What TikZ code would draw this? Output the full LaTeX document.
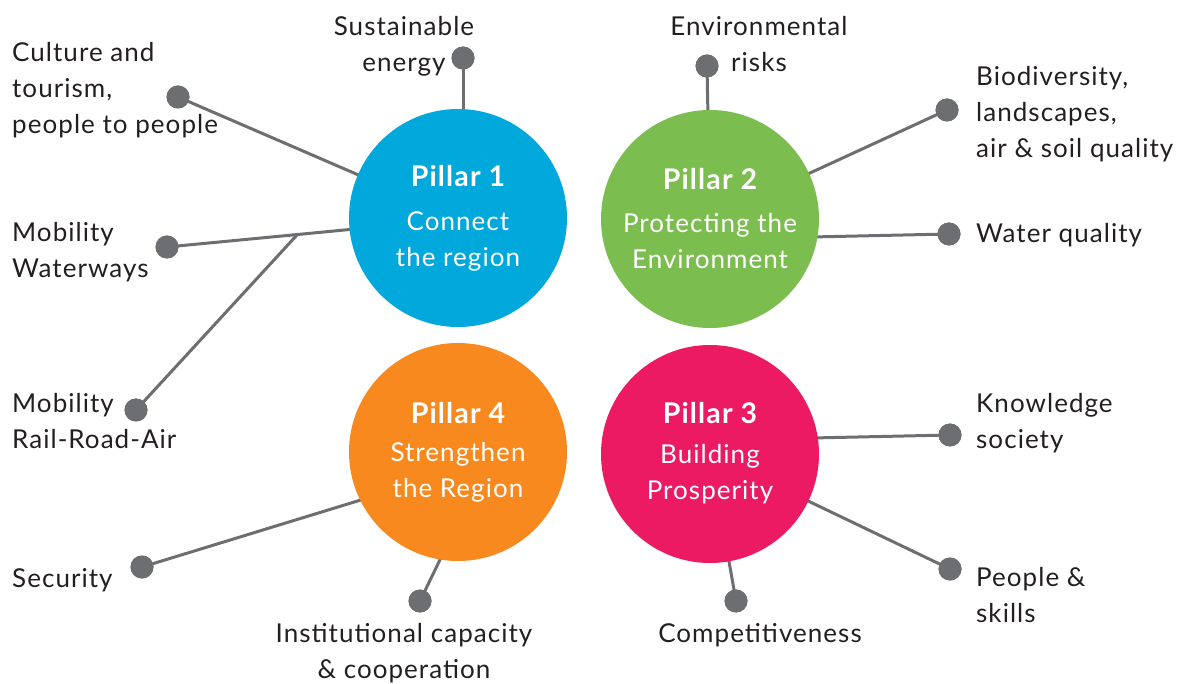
\documentclass[tikz,border=0pt]{standalone}
\usepackage{fontspec}
\setmainfont{Lato}[LetterSpace=4]
\definecolor{pblue}{HTML}{00A8DC}
\definecolor{pgreen}{HTML}{7BBD4F}
\definecolor{porange}{HTML}{F7891E}
\definecolor{ppink}{HTML}{EC1A63}
\definecolor{greyc}{HTML}{6D6E71}
\definecolor{txt}{HTML}{231F20}
\newcommand\pttl[1]{{\fontsize{28.5}{36}\selectfont\bfseries #1}}
\begin{document}
\begin{tikzpicture}[x=1pt,y=-1pt,
  pillar/.style={circle, minimum size=218pt, inner sep=0pt, text=white, align=center,
    font=\fontsize{26}{36}\selectfont},
  lbl/.style={text=txt, inner sep=0pt, font=\fontsize{26}{36}\selectfont},
  dot/.style={circle, fill=greyc, minimum size=23pt, inner sep=0pt},
  conn/.style={draw=greyc, line width=3pt}]
\useasboundingbox (0,0) rectangle (1184,684);

\coordinate (p1c) at (458,218);
\coordinate (p2c) at (710,219);
\coordinate (p4c) at (458,452);
\coordinate (p3c) at (710,454);

\node[dot] (dSust) at (463,58) {};
\node[dot] (dCult) at (178,97) {};
\node[dot] (dWater) at (167,247) {};
\node[dot] (dRail) at (136,410) {};
\node[dot] (dEnv) at (707,66) {};
\node[dot] (dBio) at (947,110) {};
\node[dot] (dWq) at (949,234) {};
\node[dot] (dKnow) at (950,435) {};
\node[dot] (dPeople) at (950,569) {};
\node[dot] (dComp) at (736,601) {};
\node[dot] (dInst) at (420,601) {};
\node[dot] (dSec) at (142,567) {};
\coordinate (branch) at (297,235);
\coordinate (eSust) at (463,130);
\coordinate (eWater) at (355,229);
\coordinate (eWq) at (720,239);
\coordinate (eKnow) at (720,440);
\coordinate (eInst) at (452,535);
\coordinate (eSec) at (400,488);

\draw[conn] (dSust.center) -- (eSust);
\draw[conn] (dCult.center) -- (p1c);
\draw[conn] (dWater.center) -- (eWater);
\draw[conn] (dRail.center) -- (branch);
\draw[conn] (dEnv.center) -- (p2c);
\draw[conn] (dBio.center) -- (p2c);
\draw[conn] (dWq.center) -- (eWq);
\draw[conn] (dKnow.center) -- (eKnow);
\draw[conn] (dPeople.center) -- (p3c);
\draw[conn] (dComp.center) -- (p3c);
\draw[conn] (dInst.center) -- (eInst);
\draw[conn] (dSec.center) -- (eSec);

\foreach \d in {dSust,dCult,dWater,dRail,dEnv,dBio,dWq,dKnow,dPeople,dComp,dInst,dSec}
  \fill[greyc] (\d) circle (11.5pt);

\node[pillar, fill=pblue] (p1) at (p1c) {\pttl{Pillar 1}\\[8pt]Connect\\the region};
\node[pillar, fill=pgreen] (p2) at (p2c) {\pttl{Pillar 2}\\[7pt]Protecting the\\Environment};
\node[pillar, fill=porange] (p4) at (p4c) {\pttl{Pillar 4}\\[2pt]Strengthen\\the Region};
\node[pillar, fill=ppink] (p3) at (p3c) {\pttl{Pillar 3}\\[4pt]Building\\Prosperity\\[-30pt]\mbox{}};

\node[lbl, align=center, anchor=base] (tSust) at (404,72) {Sustainable\\energy};
\node[lbl, align=center, anchor=base] (tEnv) at (759,72) {Environmental\\risks};
\node[lbl, align=left, anchor=base west] (tCult) at (12,134) {Culture and\\tourism,\\people to people};
\node[lbl, align=left, anchor=base west] (tWater) at (12,278) {Mobility\\Waterways};
\node[lbl, align=left, anchor=base west] (tRail) at (12,449) {Mobility\\Rail-Road-Air};
\node[lbl, align=left, anchor=base west] (tSec) at (12,587) {Security};
\node[lbl, align=center, anchor=base] (tInst) at (404,678) {Institutional capacity\\\& cooperation};
\node[lbl, align=center, anchor=base] (tComp) at (760,642) {Competitiveness};
\node[lbl, align=left, anchor=base west] (tBio) at (976,158) {Biodiversity,\\landscapes,\\air \& soil quality};
\node[lbl, align=left, anchor=base west] (tWq) at (976,243) {Water quality};
\node[lbl, align=left, anchor=base west] (tKnow) at (976,449) {Knowledge\\society};
\node[lbl, align=left, anchor=base west] (tPeople) at (976,622) {People \&\\skills};
\end{tikzpicture}
\end{document}
